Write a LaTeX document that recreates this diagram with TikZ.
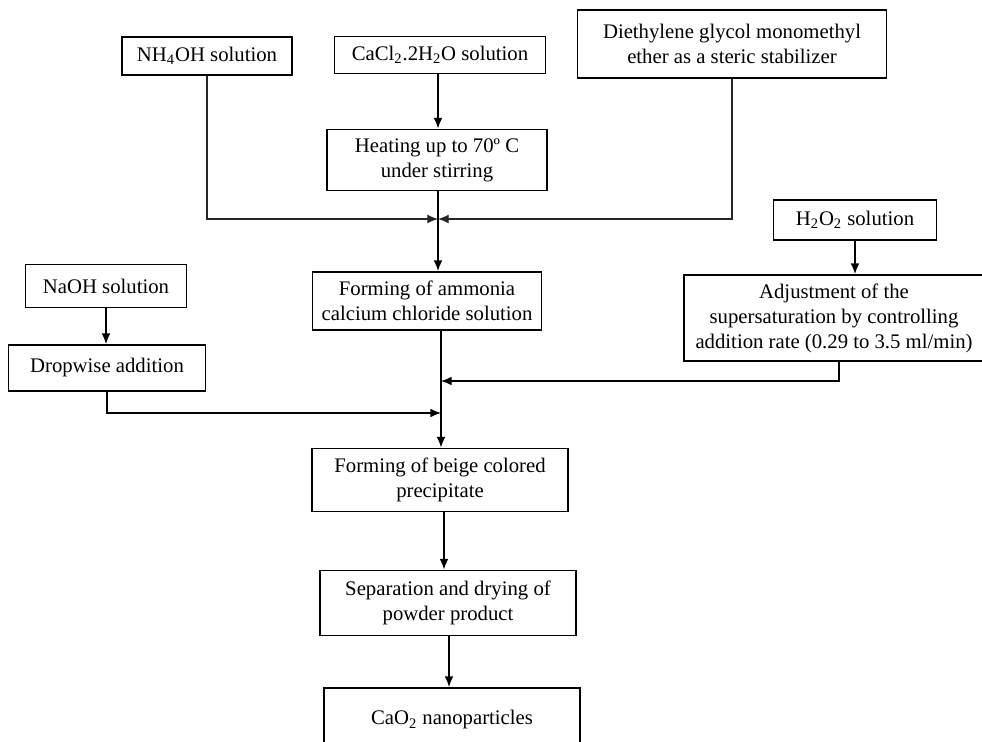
\documentclass[tikz,border=0pt]{standalone}
\usepackage{fontspec}
\setmainfont{Liberation Serif}
\usepackage{tikz}
\usetikzlibrary{positioning, arrows.meta}
\tikzstyle{blk}=[draw, line width=1.1pt, align=center, inner sep=2pt, font=\fontsize{11.8}{14.2}\selectfont]
\tikzstyle{feed}=[line width=0.6pt, draw=black!85]

\begin{document}
\begin{tikzpicture}[x=0.02cm, y=-0.02cm, > = {Latex[length=6pt,width=5pt]}, line width=0.9pt]
                    \clip (0,0) rectangle (982,742);
                    \useasboundingbox (0,0) rectangle (982,742);
                    \node [blk, minimum width=170*0.02cm, minimum height=38*0.02cm] (nh) at (207,56) {NH\textsubscript{4}OH solution};
                    \node [blk, minimum width=211*0.02cm, minimum height=37*0.02cm] (ca) at (440,55) {CaCl\textsubscript{2}.2H\textsubscript{2}O solution};
                    \node [blk, minimum width=309*0.02cm, minimum height=68*0.02cm] (deg) at (732,44) {Diethylene glycol monomethyl\\ether as a steric stabilizer};
                    \node [blk, minimum width=220*0.02cm, minimum height=61*0.02cm] (heat) at (437,160) {Heating up to 70º C\\under stirring};
                    \node [coordinate] (j1) at (438,219) {};
                    \node [blk, minimum width=229*0.02cm, minimum height=58*0.02cm] (amm) at (427,301) {Forming of ammonia\\calcium chloride solution};
                    \node [blk, minimum width=161*0.02cm, minimum height=43*0.02cm] (na) at (106,286) {NaOH solution};
                    \node [blk, minimum width=197*0.02cm, minimum height=46*0.02cm] (drop) at (107,368) {Dropwise addition};
                    \node [blk, minimum width=163*0.02cm, minimum height=40*0.02cm] (hp) at (855,220) {H\textsubscript{2}O\textsubscript{2} solution};
                    \node [blk, minimum width=300*0.02cm, minimum height=86*0.02cm] (adj) at (834,318) {Adjustment of the\\supersaturation by controlling\\addition rate (0.29 to 3.5 ml/min)};
                    \node [coordinate] (j2) at (441,381) {};
                    \node [coordinate] (j3) at (441,413) {};
                    \node [blk, minimum width=256*0.02cm, minimum height=63*0.02cm] (beige) at (440,480) {Forming of beige colored\\precipitate};
                    \node [blk, minimum width=256*0.02cm, minimum height=65*0.02cm] (sep) at (448,603) {Separation and drying of\\powder product};
                    \node [blk, minimum width=256*0.02cm, minimum height=64*0.02cm, anchor=north] (cao) at (452,687) {CaO\textsubscript{2} nanoparticles};
                    \path[->] (j1 |- ca.south) edge (j1 |- heat.north);
                    \draw (j1 |- heat.south) -- (j1);
                    \draw[->, feed] (nh.south) |- (j1);
                    \draw[->, feed] (deg.south) |- (j1);
                    \draw[->] (j1) -- (j1 |- amm.north);
                    \path[->] (na.south) edge (na.south |- drop.north);
                    \path[->] (hp.south) edge (hp.south |- adj.north);
                    \draw[->] ([xshift=5*0.02cm]adj.south) |- (j2);
                    \draw[->] (drop.south) |- (j3);
                    \draw[->] (j2 |- amm.south) -- (j2 |- beige.north);
                    \draw[->] ([xshift=4*0.02cm]beige.south) -- ([xshift=4*0.02cm]beige.south |- sep.north);
                    \draw[->] ([xshift=1*0.02cm]sep.south) -- ([xshift=1*0.02cm]sep.south |- cao.north);
                \end{tikzpicture}
\end{document}
